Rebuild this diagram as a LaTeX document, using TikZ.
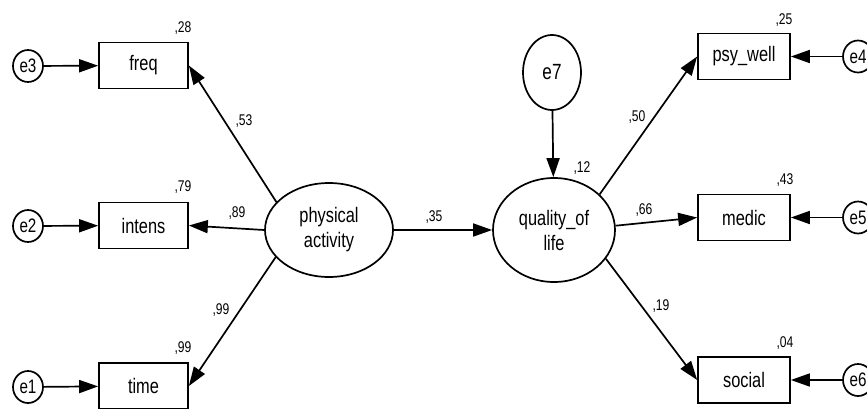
\documentclass[tikz,border=0pt]{standalone}
\usepackage{fontspec}
\newfontfamily\diag{Liberation Sans}[FakeStretch=0.78]
\usetikzlibrary{arrows.meta,shapes.geometric}
\tikzset{
  conn/.style={line width=1.7pt,-{Triangle[length=19pt,width=13pt]}},
  obs/.style={draw,line width=1.7pt,rectangle,minimum width=89pt,minimum height=46pt,inner sep=0pt,font=\diag\fontsize{21}{26}\selectfont},
  lat/.style={draw,line width=1.7pt,ellipse,inner sep=0pt,align=center,font=\diag\fontsize{21}{25}\selectfont},
  err/.style={draw,line width=1.7pt,ellipse,minimum width=30pt,minimum height=32pt,inner sep=0pt,font=\diag\fontsize{19.5}{22}\selectfont},
  num/.style={inner sep=0pt,font=\diag\fontsize{15.5}{18}\selectfont},
}
\begin{document}
\begin{tikzpicture}[x=1pt,y=1pt]
\useasboundingbox (0,0) rectangle (867,408);
% observed boxes
\node[obs] (freq)   at (143.5,408-65.5) {freq};
\node[obs] (intens) at (143.5,408-225.5) {intens};
\node[obs] (time)   at (143.5,408-386) {time};
\node[obs,minimum width=92pt] (psy)    at (744,408-56.5) {psy\_well};
\node[obs,minimum width=92pt] (medic)  at (744,408-217.5) {medic};
\node[obs,minimum width=92pt] (social) at (744,408-380) {social};
% latent
\node[lat,minimum width=128pt,minimum height=94pt] (pa) at (329,408-230) {physical\\activity};
\node[lat,minimum width=122pt,minimum height=104pt] (qol) at (554,408-230) {quality\_of\\life};
% errors
\node[err] (e3) at (28,408-66) {e3};
\node[err] (e2) at (28,408-226) {e2};
\node[err] (e1) at (28,408-387) {e1};
\node[err] (e4) at (858,408-56.5) {e4};
\node[err] (e5) at (858,408-217.5) {e5};
\node[err] (e6) at (858,408-380) {e6};
\node[err,minimum width=58pt,minimum height=75pt,font=\diag\fontsize{22}{24}\selectfont] (e7) at (552,408-72.5) {e7};
% connectors
\draw[conn] (e3) -- (freq);
\draw[conn] (e2) -- (intens);
\draw[conn] (e1) -- (time);
\draw[conn] (e4) -- (psy);
\draw[conn] (e5) -- (medic);
\draw[conn] (e6) -- (social);
\draw[conn] (pa.152) -- (freq.east);
\draw[conn] (pa.180) -- (intens.east);
\draw[conn] (pa.207) -- (time.east);
\draw[conn] (pa) -- (qol);
\draw[conn] (e7) -- (qol);
\draw[conn] (qol.38) -- (psy.west);
\draw[conn] (qol.4) -- (medic.west);
\draw[conn] (qol.-29) -- (social.west);
% numbers
\node[num] (n28) at (183,408-28) {,28};
\node[num] (n79) at (183,408-187) {,79};
\node[num] (n99a) at (183,408-348) {,99};
\node[num] (n53) at (244,408-121) {,53};
\node[num] (n89) at (237,408-213) {,89};
\node[num] (n99b) at (221,408-310) {,99};
\node[num] (n35) at (434,408-217) {,35};
\node[num] (n12) at (582,408-168) {,12};
\node[num] (n50) at (637,408-117) {,50};
\node[num] (n66) at (644,408-210) {,66};
\node[num] (n19) at (661,408-306) {,19};
\node[num] (n25) at (784,408-20) {,25};
\node[num] (n43) at (785,408-180) {,43};
\node[num] (n04) at (785,408-343) {,04};
\end{tikzpicture}
\end{document}
